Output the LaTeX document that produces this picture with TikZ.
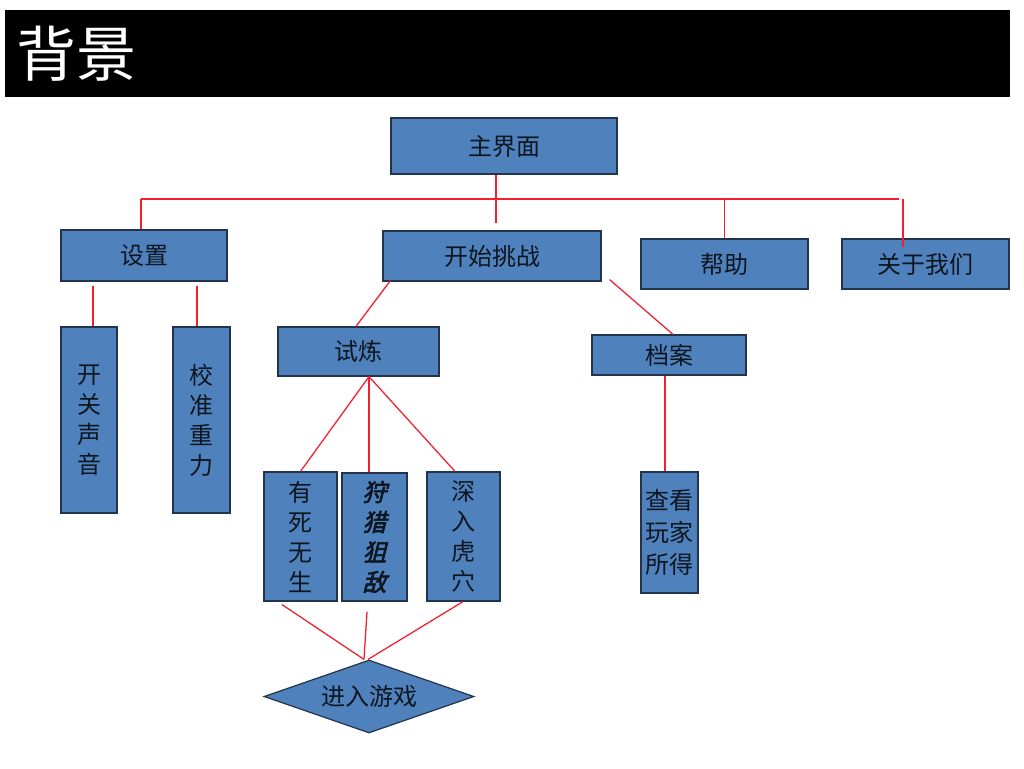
\documentclass[tikz,border=0pt]{standalone}
\usepackage{fontspec}
\setmainfont{Noto Sans CJK SC}
\newfontfamily\cjkbi{Noto Sans CJK SC}[FakeSlant=0.25,FakeBold=2.5]
\usetikzlibrary{shapes.geometric,calc}
\definecolor{boxblue}{HTML}{4F81BD}
\definecolor{boxline}{HTML}{22344A}
\definecolor{boxtext}{HTML}{0E1620}
\definecolor{linkred}{HTML}{F0202E}
\begin{document}
\begin{tikzpicture}[x=0.75pt,y=-0.75pt,
  box/.style={draw=boxline,fill=boxblue,line width=0.9pt,inner sep=0pt,
    text=boxtext,font=\fontsize{18}{22}\selectfont,align=center},
  vbox/.style={box,font=\fontsize{18}{22.5}\selectfont},
  link/.style={draw=linkred,line width=0.95pt}]
\useasboundingbox (0,0) rectangle (1024,768);
\fill[white] (0,0) rectangle (1024,768);
% title bar
\fill[black] (5,10) rectangle (1010,97);
\node[text=white,anchor=west,inner sep=0pt,font=\fontsize{45}{50}\selectfont] (title) at (16,54) {背景};
% nodes
\node[box,minimum width=226*0.75pt,minimum height=56*0.75pt] (main) at (504,146) {主界面};
\node[box,minimum width=218*0.75pt,minimum height=50*0.75pt] (start) at (492,256) {开始挑战};
\node[box,minimum width=166*0.75pt,minimum height=51*0.75pt] (setup) at (144,255.5) {设置};
\node[box,minimum width=167*0.75pt,minimum height=50*0.75pt] (help) at (724.5,264) {帮助};
\node[box,minimum width=167*0.75pt,minimum height=50*0.75pt] (about) at (925.5,264) {关于我们};
\node[vbox,minimum width=56*0.75pt,minimum height=186*0.75pt] (sound) at (89,420) {开\\关\\声\\音};
\node[vbox,minimum width=57*0.75pt,minimum height=186*0.75pt] (gravity) at (201.5,420) {校\\准\\重\\力};
\node[box,minimum width=161*0.75pt,minimum height=49*0.75pt] (trial) at (358.5,351.5) {试炼};
\node[box,minimum width=154*0.75pt,minimum height=40*0.75pt] (archive) at (669,355) {档案};
\node[box,font=\fontsize{18}{24}\selectfont,minimum width=57*0.75pt,minimum height=121*0.75pt] (view) at (669.5,532.5) {查看\\玩家\\所得};
\node[vbox,minimum width=73*0.75pt,minimum height=129*0.75pt] (t1) at (300.5,536.5) {有\\死\\无\\生};
\node[vbox,font=\cjkbi\fontsize{18}{22.5}\selectfont,minimum width=65*0.75pt,minimum height=128*0.75pt] (t2) at (374.5,537) {狩\\猎\\狙\\敌};
\node[vbox,minimum width=73*0.75pt,minimum height=129*0.75pt] (t3) at (463.5,536.5) {深\\入\\虎\\穴};
\node[box,shape=diamond,shape aspect=2.88,minimum width=210*0.75pt,minimum height=73*0.75pt] (game) at (369,696.5) {进入游戏};
% connector helpers
\coordinate (busL) at (141,199);
\coordinate (busR) at (899,199);
\coordinate (aboutTop) at (903,199);
\coordinate (trialFoot) at ($(trial.south)+(10.5,0)$);
% connectors
\draw[link] ($(main.south)+(-8,0)$) -- ($(main.south)+(-8,48)$);
\draw[link] (busL) -- (busR);
\draw[link] (busL) -- (busL |- setup.north);
\draw[link] (help.north |- busL) -- (help.north);
\draw[link] (aboutTop) -- ($(aboutTop)+(0,48)$);
\draw[link] ($(sound.north)+(4,-40)$) -- ($(sound.north)+(4,0)$);
\draw[link] ($(gravity.north)+(-4.5,-40)$) -- ($(gravity.north)+(-4.5,0)$);
\draw[link] ($(start.south west)+(8,-1)$) -- ($(trial.north)+(-2.5,0)$);
\draw[link] ($(start.south east)+(8,-2)$) -- ($(archive.north)+(4,0)$);
\draw[link] (trialFoot) -- (t1.north);
\draw[link] (trialFoot) -- (trialFoot |- t2.north);
\draw[link] (trialFoot) -- ($(t3.north)+(-8.5,0)$);
\draw[link] ($(archive.south)+(-4,0)$) -- ($(view.north)+(-4.5,0)$);
\draw[link] ($(t1.south)+(-18.5,3)$) -- ($(game.north)+(-5,0)$);
\draw[link] ($(t2.south)+(-7.5,10)$) -- ($(game.north)+(-5,0)$);
\draw[link] ($(t3.south)+(-0.5,0)$) -- ($(game.north)+(-1,0)$);
\end{tikzpicture}
\end{document}
